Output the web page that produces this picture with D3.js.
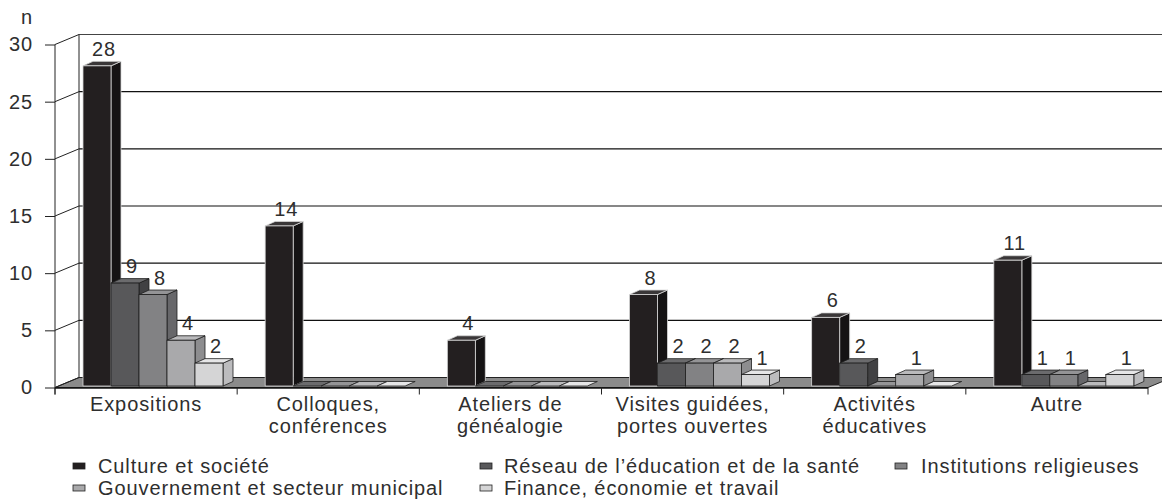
<!DOCTYPE html>
<html><head><meta charset="utf-8">
<script src="https://cdn.jsdelivr.net/npm/d3@7"></script>
<style>
html,body{margin:0;padding:0;background:#fff;}
svg text{font-family:"Liberation Sans",Arial,sans-serif;fill:#2e2e2e;letter-spacing:0.9px;}
</style></head>
<body>
<svg id="chart" width="1162" height="499"></svg>
<script>
const categories = [["Expositions"],["Colloques,","conférences"],["Ateliers de","généalogie"],["Visites guidées,","portes ouvertes"],["Activités","éducatives"],["Autre"]];
const seriesNames = ["Culture et société","Réseau de l’éducation et de la santé","Institutions religieuses","Gouvernement et secteur municipal","Finance, économie et travail"];
const culture      = [28, 14, 4, 8, 6, 11];
const reseau       = [9, 0, 0, 2, 2, 1];
const religieuses  = [8, 0, 0, 2, 0, 1];
const gouvernement = [4, 0, 0, 2, 1, 0];
const finance      = [2, 0, 0, 1, 0, 1];
const yTicks = [0, 5, 10, 15, 20, 25, 30];
const yTitle = "n";

const seriesValues = [culture, reseau, religieuses, gouvernement, finance];
const fills = [
  {front:"#231f20", side:"#151314", top:"#3a3738", stroke:"#d8d8d8"},
  {front:"#58585a", side:"#414143", top:"#6b6b6d", stroke:"#1e1e1e"},
  {front:"#828284", side:"#67676a", top:"#949496", stroke:"#1e1e1e"},
  {front:"#a9a9ab", side:"#8d8d8f", top:"#bababc", stroke:"#1e1e1e"},
  {front:"#d5d5d6", side:"#bcbcbe", top:"#e6e6e7", stroke:"#1e1e1e"}
];

const svg = d3.select("#chart");
const catKeys = categories.map(c => c.join(" "));
const x = d3.scaleBand().domain(catKeys).range([55, 1148]);
const xs = d3.scaleBand().domain(d3.range(seriesNames.length)).range([28, 168]);
const y = d3.scaleLinear().domain([0, 30]).range([387.5, 44.5]);
const DX = 24, DY = -10;      // wall depth
const bdx = 10, bdy = -4.5;   // bar depth
const lift = 1.5;

// floor
const x0 = x.range()[0], x1 = x.range()[1];
svg.append("polygon")
  .attr("points", [[x0, y(0)], [x1, y(0)], [x1 + DX, y(0) + DY], [x0 + DX, y(0) + DY]].map(p => p.join(",")).join(" "))
  .attr("fill", "#8b8b8b").attr("stroke", "#222").attr("stroke-width", 1);

// back wall gridlines
svg.append("g").selectAll("line").data(yTicks.filter(t => t > 0)).join("line")
  .attr("x1", x0 + DX).attr("x2", 1162)
  .attr("y1", d => y(d) + DY).attr("y2", d => y(d) + DY)
  .attr("stroke", (d, i, a) => i === a.length - 1 ? "#444" : "#111").attr("stroke-width", 1.2);

// left wall
svg.append("line").attr("x1", x0 + DX).attr("x2", x0 + DX)
  .attr("y1", y(30) + DY).attr("y2", y(0) + DY).attr("stroke", "#222").attr("stroke-width", 1);
svg.append("g").selectAll("line").data(yTicks).join("line")
  .attr("x1", x0).attr("x2", x0 + DX)
  .attr("y1", d => y(d)).attr("y2", d => y(d) + DY)
  .attr("stroke", "#222").attr("stroke-width", 1);

// y axis
const yAxis = d3.axisLeft(y).tickValues(yTicks).tickSize(10).tickPadding(12);
const ga = svg.append("g").attr("transform", `translate(${x0},0)`).call(yAxis);
ga.select(".domain").remove();
ga.selectAll(".tick line").attr("stroke", "#222");
ga.selectAll(".tick text").attr("font-size", 20).attr("fill", "#2e2e2e")
  .style("font-family", '"Liberation Sans",Arial,sans-serif');
svg.append("line").attr("x1", x0).attr("x2", x0).attr("y1", y(30)).attr("y2", y(0) + 7)
  .attr("stroke", "#222").attr("stroke-width", 1);
svg.append("text").attr("x", 33).attr("y", 24).attr("text-anchor", "end")
  .attr("font-size", 20).text(yTitle);

// bars
const bars = [];
catKeys.forEach((c, ci) => {
  seriesValues.forEach((vals, si) => {
    bars.push({c, ci, si, v: vals[ci]});
  });
});
const gb = svg.append("g");
bars.forEach(b => {
  const f = fills[b.si];
  const L = x(b.c) + xs(b.si), R = L + xs.bandwidth();
  const B = y(0) - lift, T = y(b.v) - lift;
  const g = gb.append("g");
  const pts = a => a.map(p => p.join(",")).join(" ");
  if (b.v > 0) {
    g.append("polygon").attr("points", pts([[R, B], [R + bdx, B + bdy], [R + bdx, T + bdy], [R, T]]))
      .attr("fill", f.side).attr("stroke", f.stroke).attr("stroke-width", 0.8);
  }
  g.append("polygon").attr("points", pts([[L, T], [R, T], [R + bdx, T + bdy], [L + bdx, T + bdy]]))
    .attr("fill", f.top).attr("stroke", f.stroke).attr("stroke-width", 0.8);
  if (b.v > 0) {
    g.append("rect").attr("x", L).attr("y", T).attr("width", R - L).attr("height", B - T)
      .attr("fill", f.front).attr("stroke", f.stroke).attr("stroke-width", 0.8);
  }
});

// value labels
svg.append("g").selectAll("text").data(bars.filter(b => b.v > 0)).join("text")
  .attr("x", b => x(b.c) + xs(b.si) + xs.bandwidth() / 2 + 7)
  .attr("y", b => y(b.v) - lift - 10)
  .attr("text-anchor", "middle").attr("font-size", 20)
  .text(b => b.v);

// x axis line and ticks
svg.append("line").attr("x1", x0).attr("x2", x1).attr("y1", y(0) + 0.5).attr("y2", y(0) + 0.5)
  .attr("stroke", "#111").attr("stroke-width", 1.5);
const tickXs = catKeys.map(c => x(c)).concat([x1]);
svg.append("g").selectAll("line").data(tickXs).join("line")
  .attr("x1", d => d).attr("x2", d => d).attr("y1", y(0)).attr("y2", y(0) + 7)
  .attr("stroke", "#222");
const gl = svg.append("g").selectAll("text").data(categories).join("text")
  .attr("x", (d, i) => x(catKeys[i]) + x.bandwidth() / 2)
  .attr("y", 411).attr("text-anchor", "middle").attr("font-size", 20);
gl.each(function(d) {
  const t = d3.select(this);
  const cx = t.attr("x");
  d.forEach((line, k) => t.append("tspan").attr("x", cx).attr("dy", k === 0 ? 0 : 22).text(line));
});

// legend
const legX = [73, 480, 895];
const legY = [466, 488];
const lg = svg.append("g").selectAll("g").data(seriesNames).join("g")
  .attr("transform", (d, i) => `translate(${legX[i % 3]},${legY[Math.floor(i / 3)]})`);
lg.append("rect").attr("x", 0).attr("y", -3).attr("width", 12).attr("height", 6)
  .attr("fill", (d, i) => fills[i].front).attr("stroke", "#222").attr("stroke-width", 0.8);
lg.append("text").attr("x", (d, i) => [25, 24, 26][i % 3]).attr("y", 7).attr("font-size", 20).text(d => d);
</script>
</body></html>
